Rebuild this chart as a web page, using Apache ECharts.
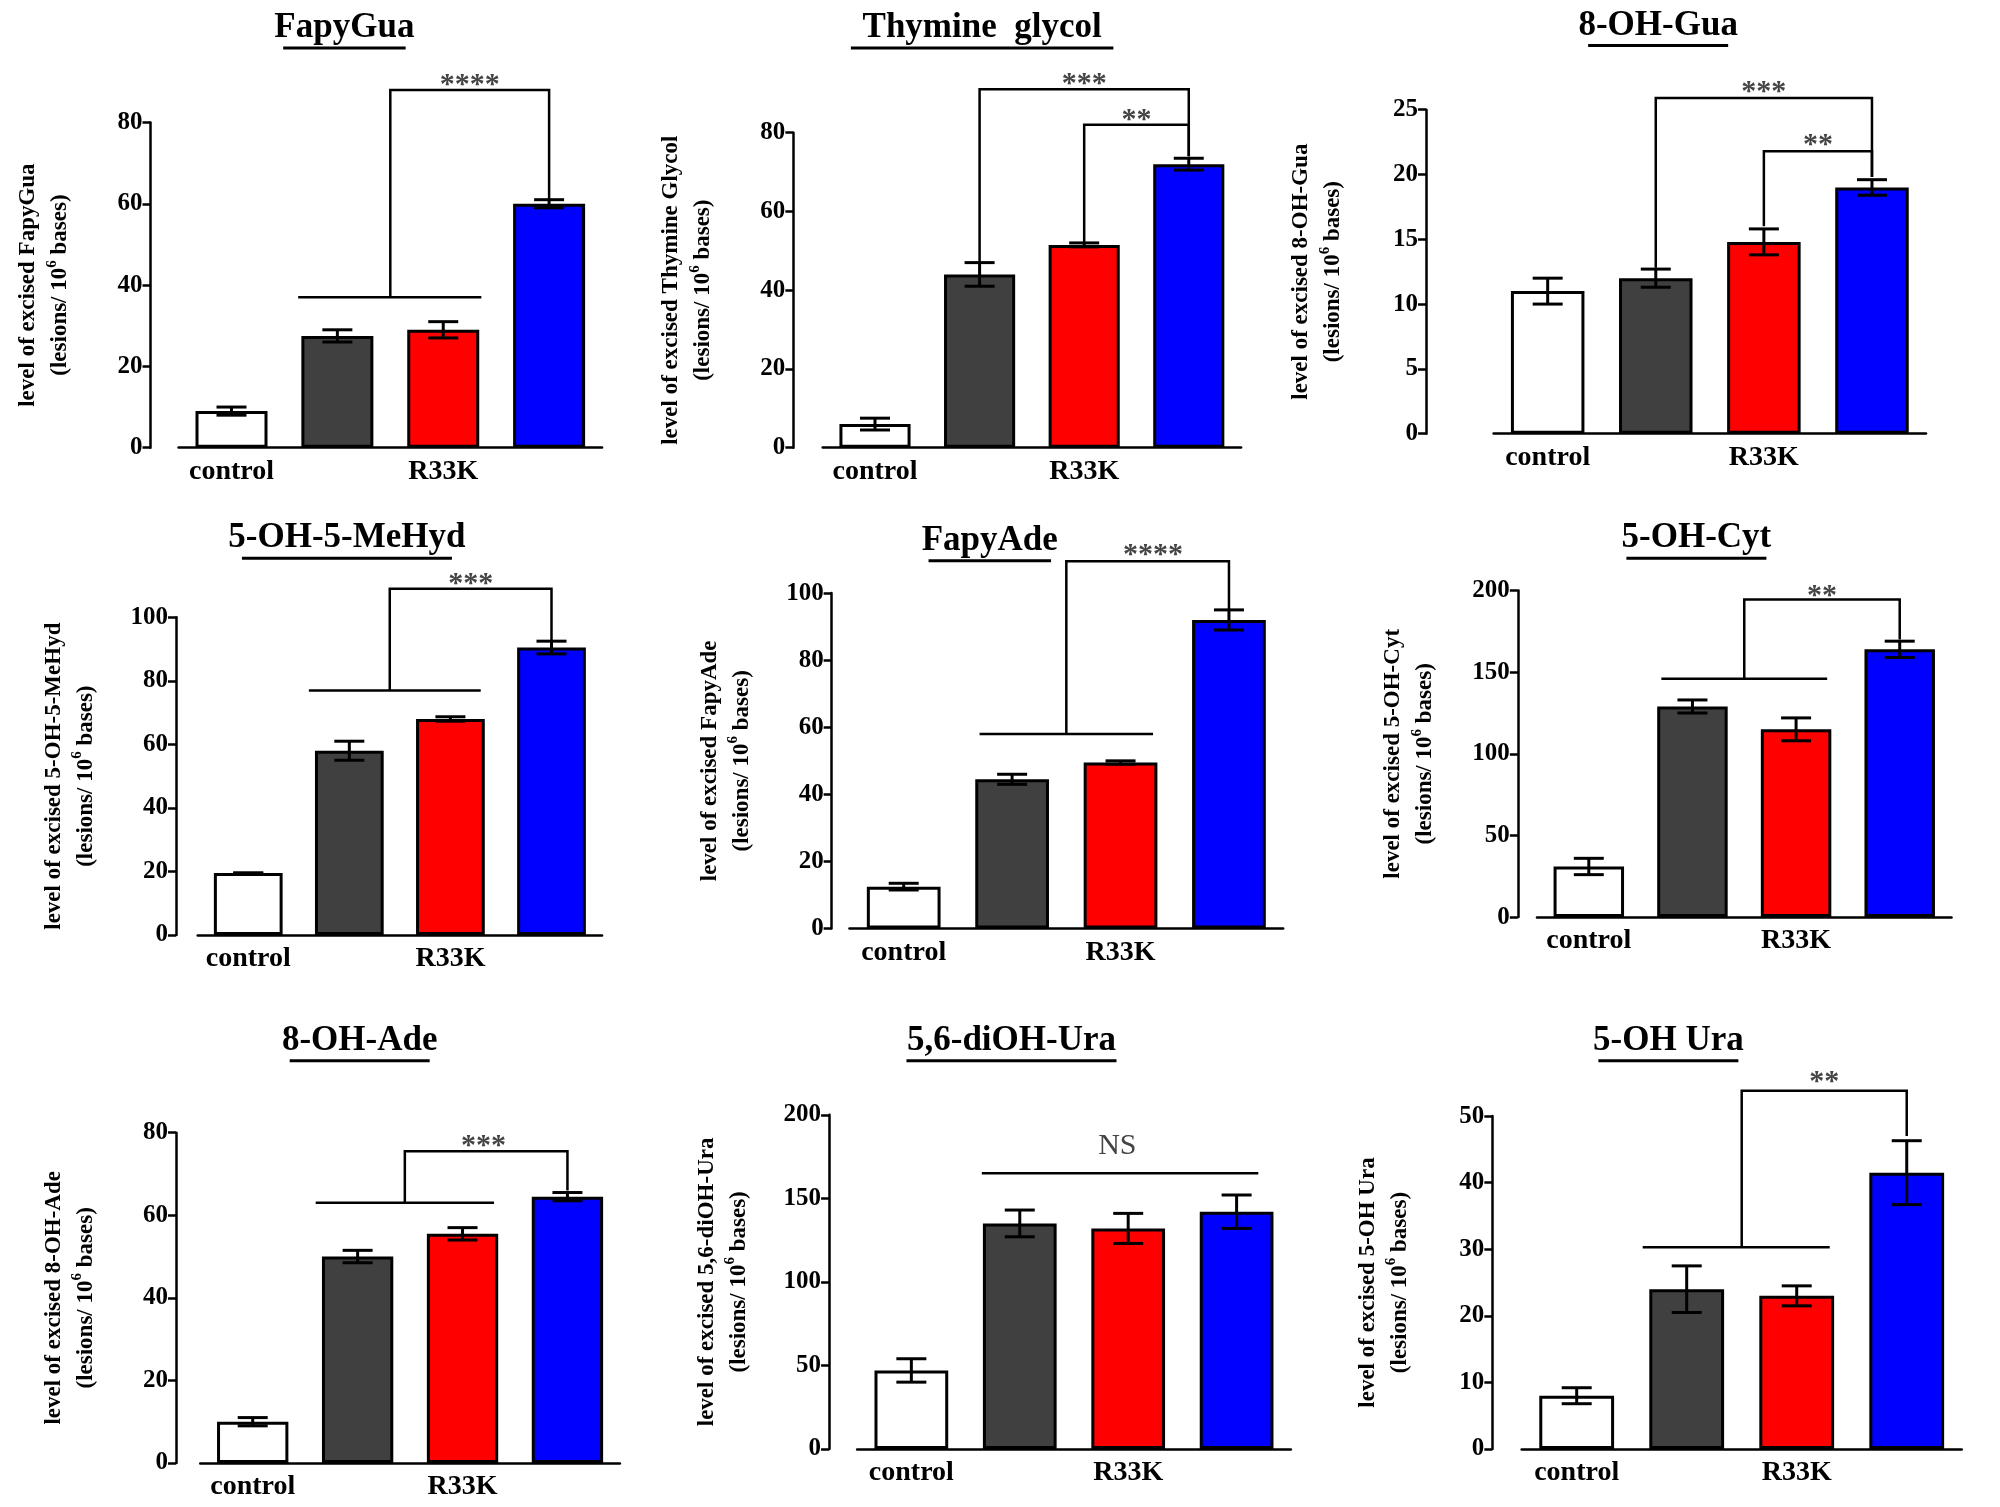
<!DOCTYPE html>
<html><head><meta charset="utf-8">
<script src="https://cdn.jsdelivr.net/npm/echarts@6/dist/echarts.min.js"></script>
<style>html,body{margin:0;padding:0;background:#fff}#c{width:2000px;height:1507px}</style>
</head><body><div id="c"></div>
<script>
const categories = ['control','WT','R33K','Δ63'];
const titles = ['FapyGua','Thymine  glycol','8-OH-Gua','5-OH-5-MeHyd','FapyAde','5-OH-Cyt','8-OH-Ade','5,6-diOH-Ura','5-OH Ura'];
const yNames = ['FapyGua','Thymine Glycol','8-OH-Gua','5-OH-5-MeHyd','FapyAde','5-OH-Cyt','8-OH-Ade','5,6-diOH-Ura','5-OH Ura'];
const means = [
 [9,27.5,29,60],[6,44,51.5,72],[11,12,14.8,19],
 [19.5,58,68,90.5],[12.5,44.5,49.5,92],[31,129,115,164],
 [10,50,55.5,64.5],[47,135,132,142],[8,24,23,41.5]];
const errs = [
 [1,1.5,2,1],[1.5,3,0.5,1.5],[1,0.7,1,0.6],
 [0,3,0.7,2],[1,1.5,0.5,3],[5,4,7,5],
 [1,1.5,1.5,1],[7,8,9,10],[1.2,3.5,1.5,4.8]];
const yMax = [80,80,25,100,100,200,80,200,50];
const yStep = [20,20,5,20,20,50,20,50,10];
// brackets: polylines [cat, value]
const brackets = [
 [[[0.63,37],[2.36,37]],[[1.5,37],[1.5,88],[3,88],[3,61]]],
 [[[1,47],[1,91],[3,91],[3,74]],[[2,52],[2,82],[3,82],[3,74]]],
 [[[1,12.8],[1,25.9],[3,25.9],[3,19.8]],[[2,16],[2,21.8],[3,21.8],[3,19.8]]],
 [[[0.6,77],[2.3,77]],[[1.4,77],[1.4,109],[3,109],[3,92.5]]],
 [[[0.7,58],[2.3,58]],[[1.5,58],[1.5,109.5],[3,109.5],[3,95]]],
 [[[0.7,146],[2.3,146]],[[1.5,146],[1.5,194.5],[3,194.5],[3,170]]],
 [[[0.6,63],[2.3,63]],[[1.45,63],[1.45,75.5],[3,75.5],[3,66]]],
 [[[0.65,165],[3.2,165]]],
 [[[0.6,30.3],[2.3,30.3]],[[1.5,30.3],[1.5,53.8],[3,53.8],[3,47]]]];
const sigLabels = [
 [[2.25,89,'****']],[[2,92,'***'],[2.5,83,'**']],[[2,26.3,'***'],[2.5,22.2,'**']],
 [[2.2,110,'***']],[[2.3,111,'****']],[[2.25,196,'**']],
 [[2.2,76.5,'***']],[[1.9,170,'NS']],[[2.25,55,'**']]];

const S = 2000/1568;
const grids = [[140,472,96,351,22],[645,973,104,351,23],[1171,1510,86,340,53],
 [155,472,484,733,17],[666,1006,465,728,14],[1205,1530,463,719,15],
 [157,486,888,1147,19],[672,1012,874,1136,22],[1193,1538,875,1136,23]];
const titlePos = [[270,22],[770,22],[1300,20],[272,422],[776,424],[1330,422],[282,816],[793,816],[1308,816]];
const colors = ['#ffffff','#404040','#ff0000','#0000ff'];
const FF = '"Liberation Serif", "DejaVu Serif", serif';

const option = {animation:false, backgroundColor:'#fff', grid:[], xAxis:[], yAxis:[], series:[], graphic:[]};
function ptFn(api){
  return function(c,v){
    const i=Math.min(Math.floor(c),2), f=c-i;
    const a=api.coord([i,v]), b=api.coord([i+1,v]);
    return [a[0]+(b[0]-a[0])*f, a[1]];
  };
}
grids.forEach((g,k)=>{
  option.grid.push({left:g[0]*S, width:(g[1]-g[0])*S, top:g[2]*S, height:(g[3]-g[2])*S, containLabel:false});
  option.xAxis.push({type:'category', gridIndex:k, data:categories,
    axisLine:{lineStyle:{color:'#000',width:2.5}}, axisTick:{show:false},
    axisLabel:{color:'#000',fontFamily:FF,fontWeight:'bold',fontSize:28,margin:10}});
  option.yAxis.push({type:'value', gridIndex:k, min:0, max:yMax[k], interval:yStep[k], offset:g[4]*S,
    splitLine:{show:false}, axisLine:{show:true,lineStyle:{color:'#000',width:2.5}},
    axisTick:{show:true,length:8,lineStyle:{width:2.5}},
    axisLabel:{color:'#000',fontFamily:FF,fontWeight:'bold',fontSize:25},
    name:'{a|level of excised '+yNames[k]+'}\n{a|(lesions/ 10}{s|6}{a| bases)}',
    nameLocation:'middle', nameRotate:90, nameGap:(k===2||k===5||k===8?60:58)*S,
    nameTextStyle:{rich:{a:{fontFamily:FF,fontWeight:'bold',fontSize:23,color:'#000',lineHeight:32},
      s:{fontFamily:FF,fontWeight:'bold',fontSize:15,color:'#000',verticalAlign:'top',lineHeight:32}}}});
  option.series.push({type:'bar', xAxisIndex:k, yAxisIndex:k, barWidth:'68%',
    data: means[k].map((v,i)=>({value:v,itemStyle:{color:colors[i],borderColor:'#000',borderWidth:3}}))});
  option.series.push({type:'custom', xAxisIndex:k, yAxisIndex:k, z:5,
    data: means[k].map((v,i)=>[i,v,errs[k][i]]),
    renderItem:(p,api)=>{
      const i=api.value(0), v=api.value(1), e=api.value(2);
      const t=api.coord([i,v+e]), b=api.coord([i,v-e]), w=15;
      const st={stroke:'#000',lineWidth:3};
      return {type:'group',children:[
        {type:'line',shape:{x1:t[0],y1:t[1],x2:b[0],y2:b[1]},style:st},
        {type:'line',shape:{x1:t[0]-w,y1:t[1],x2:t[0]+w,y2:t[1]},style:st},
        {type:'line',shape:{x1:b[0]-w,y1:b[1],x2:b[0]+w,y2:b[1]},style:st}]};
    }});
  option.series.push({type:'custom', xAxisIndex:k, yAxisIndex:k, z:6, clip:false,
    data:[[0,0]],
    renderItem:(p,api)=>{
      const pt=ptFn(api); const ch=[];
      brackets[k].forEach(pl=>ch.push({type:'polyline',shape:{points:pl.map(q=>pt(q[0],q[1]))},style:{stroke:'#000',lineWidth:2.5,fill:null}}));
      sigLabels[k].forEach(l=>{const q=pt(l[0],l[1]); ch.push({type:'text',x:q[0],y:q[1]+(l[2]==='NS'?-4:14),
        style:{text:l[2],fill:'#444',font:(l[2]==='NS'?'30px ':'bold 30px ')+FF,align:'center',verticalAlign:'bottom'}});});
      return {type:'group',children:ch};
    }});
  const tp=titlePos[k];
  option.graphic.push({type:'text',left:0,top:0,x:tp[0]*S,y:tp[1]*S,
    style:{text:titles[k],font:'bold 35px '+FF,fill:'#000',align:'center',verticalAlign:'middle'}});
  const tw = titles[k].length*17.5;
  option.graphic.push({type:'line',shape:{x1:tp[0]*S-tw/2,y1:tp[1]*S+20,x2:tp[0]*S+tw/2,y2:tp[1]*S+20},style:{stroke:'#000',lineWidth:3}});
});
// remove left/top from graphics text (use x,y)
option.graphic.forEach(g=>{delete g.left;delete g.top;});
const chart = echarts.init(document.getElementById('c'));
chart.setOption(option);
</script></body></html>
